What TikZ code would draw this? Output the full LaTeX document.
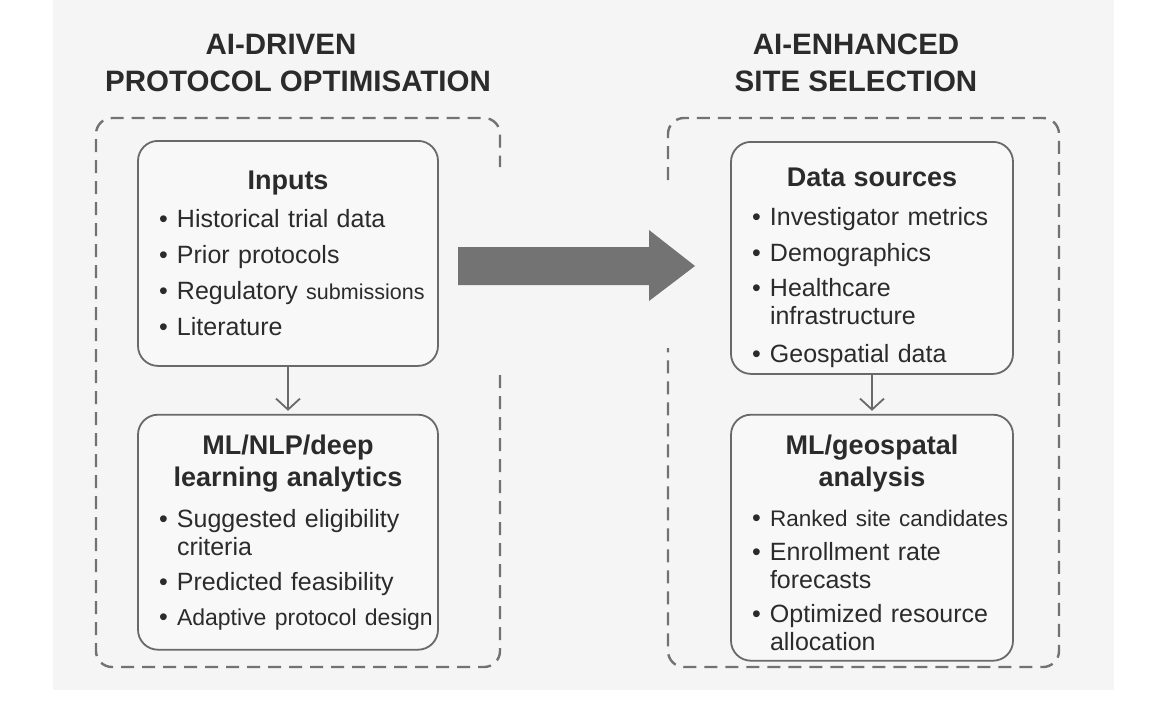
\documentclass[tikz,border=0pt]{standalone}
\usepackage{fontspec}
\setmainfont{Liberation Sans}
\usepackage{xcolor}
\definecolor{panelgray}{HTML}{F5F5F5}
\definecolor{cardfill}{HTML}{F8F8F8}
\definecolor{linegray}{HTML}{696969}
\definecolor{dashgray}{HTML}{727272}
\definecolor{textdark}{HTML}{2B2B2B}
\definecolor{bigarrow}{HTML}{737373}
\usepackage{tikz}
\usetikzlibrary{arrows.meta,positioning}
\hyphenpenalty=10000
\exhyphenpenalty=10000
\newcommand{\bul}{\makebox[33pt][l]{\hspace{15pt}\textbullet}}
\newcommand{\cont}{\hspace*{33pt}}
\newcommand{\tight}[2]{\makebox[0pt][l]{\fontsize{#1}{28}\selectfont #2}}
\newcommand{\bhead}[2][0pt]{\noindent\makebox[\hsize][c]{\rule{0pt}{#1}\fontsize{27}{28}\selectfont\bfseries #2}}

\begin{document}
\begin{tikzpicture}[x=1pt,y=-1pt,
  hd/.style={font=\fontsize{29.5}{37}\selectfont\bfseries,align=center,text=textdark},
  card/.style={draw=linegray,line width=1.8pt,fill=cardfill,rounded corners=20pt,
    text width=#1,inner xsep=6pt,inner ysep=4pt,align=left,anchor=north,
    text=textdark,font=\fontsize{25}{28}\selectfont},
  grp/.style={draw=dashgray,line width=2.4pt,dash pattern=on 13pt off 8pt,rounded corners=16pt},
  arr/.style={-{Straight Barb[length=11pt,width=24pt]},line width=1.8pt,draw=linegray,shorten >=3pt}]
\useasboundingbox (0,0) rectangle (1159,701);
\fill[white] (0,0) rectangle (1159,701);
\fill[panelgray] (53,0) rectangle (1114,690);
% titles
\node[hd] (hdL) at (298,63) {AI-DRIVEN\rule{34pt}{0pt}\\PROTOCOL OPTIMISATION};
\node[hd] (hdR) at (856,63) {AI-ENHANCED\\SITE SELECTION};
% dashed groups, open where the big arrow passes
\draw[grp] (500,375) -- (500,667) -- (96,667) -- (96,118) -- (500,118) -- (500,167);
\draw[grp] (668,180) -- (668,118) -- (1059,118) -- (1059,667) -- (668,667) -- (668,348);
% left column
\node[card=288pt,minimum height=225pt] (inp) at (288,140) {\bhead{Inputs}\\[10pt]
  \bul Historical trial data\\[8pt]
  \bul Prior protocols\\[8pt]
  \bul Regulatory \tight{21.5}{submissions}\\[8pt]
  \bul Literature\\[7pt]};
\node[card=288pt,minimum height=235pt,below=47pt of inp] (mla) {\bhead{ML/NLP/deep}\\[4pt]
  \bhead{learning analytics}\\[13pt]
  \bul Suggested eligibility\\
  \cont criteria\\[7pt]
  \bul Predicted feasibility\\[7pt]
  \bul \tight{23}{Adaptive protocol design}};
% right column
\node[card=270pt,minimum height=232pt] (dsrc) at (872,141) {\bhead[39pt]{Data sources}\\[11pt]
  \bul Investigator metrics\\[8pt]
  \bul Demographics\\[7pt]
  \bul Healthcare\\
  \cont infrastructure\\[10pt]
  \bul Geospatial data};
\node[card=270pt,minimum height=246pt,below=39pt of dsrc] (mlb) {\bhead[30pt]{ML/geospatal}\\[4pt]
  \bhead{analysis}\\[12pt]
  \bul \tight{22.5}{Ranked site candidates}\\[6pt]
  \bul Enrollment rate\\
  \cont forecasts\\[6pt]
  \bul Optimized resource\\
  \cont allocation};
\draw[arr] (inp) -- (mla);
\draw[arr] (dsrc) -- (mlb);
% big arrow between the two groups
\fill[bigarrow] (458,247) -- (649,247) -- (649,230) -- (695,266) -- (649,301) -- (649,285) -- (458,285) -- cycle;
\end{tikzpicture}
\end{document}
